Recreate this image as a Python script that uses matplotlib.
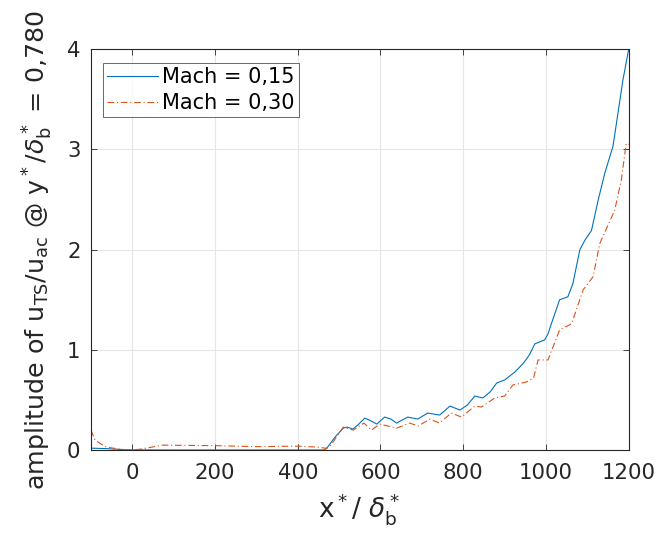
import matplotlib
matplotlib.use("Agg")
import matplotlib.pyplot as plt

plt.rcParams['font.family'] = ['DejaVu Sans']
plt.rcParams['mathtext.default'] = 'regular'

blue_x = [-100, -60, -20, 0, 100, 200, 300, 400, 465, 472, 490, 510, 520, 533, 545, 562,
          578, 591, 610, 625, 639, 652, 666, 690, 714, 743, 768, 792, 810, 828, 847, 865,
          881, 900, 925, 945, 960, 973, 985, 997, 1005, 1013, 1033, 1053, 1065, 1082, 1095,
          1110, 1126, 1142, 1162, 1174, 1186, 1200]
blue_y = [0.02, 0.015, 0.005, 0.003, 0.002, 0.002, 0.002, 0.002, 0.002, 0.03, 0.13, 0.22,
          0.23, 0.21, 0.25, 0.32, 0.29, 0.26, 0.33, 0.31, 0.27, 0.30, 0.33, 0.31, 0.37, 0.35,
          0.44, 0.40, 0.45, 0.54, 0.52, 0.58, 0.67, 0.70, 0.78, 0.865, 0.95, 1.06, 1.08, 1.10,
          1.16, 1.26, 1.50, 1.53, 1.66, 2.0, 2.1, 2.19, 2.49, 2.76, 3.03, 3.36, 3.69, 4.0]

orange_x = [-100, -90, -75, -62, -30, -2, 20, 47, 74, 200, 300, 400, 450, 470, 480, 495,
            510, 534, 560, 578, 598, 639, 671, 691, 719, 743, 771, 796, 828, 844, 876, 900,
            920, 953, 970, 981, 1005, 1033, 1062, 1090, 1114, 1130, 1166, 1182, 1194, 1200]
orange_y = [0.2, 0.1, 0.06, 0.03, 0.01, 0.0, 0.01, 0.03, 0.05, 0.045, 0.035, 0.04, 0.03,
            0.017, 0.05, 0.14, 0.23, 0.20, 0.27, 0.20, 0.26, 0.22, 0.27, 0.24, 0.31, 0.27,
            0.37, 0.33, 0.44, 0.43, 0.52, 0.54, 0.65, 0.68, 0.72, 0.90, 0.90, 1.20, 1.26,
            1.60, 1.73, 2.06, 2.39, 2.69, 3.06, 3.05]

labels = ['Mach = 0,15', 'Mach = 0,30']
xticks = [0, 200, 400, 600, 800, 1000, 1200]
yticks = [0, 1, 2, 3, 4]

fig = plt.figure(figsize=(6.59, 5.34), dpi=100)
ax = fig.add_axes([0.138, 0.157, 0.816, 0.751])

ax.plot(blue_x, blue_y, color='#0072BD', lw=0.8, label=labels[0])
ax.plot(orange_x, orange_y, color='#D95319', lw=0.8, ls=(0, (6, 2.5, 1, 2.5)), label=labels[1])

ax.set_xlim(-100, 1200)
ax.set_ylim(0, 4)
ax.set_xticks(xticks)
ax.set_yticks(yticks)
ax.grid(True, color='#e6e6e6', lw=0.8)
ax.set_axisbelow(True)
ax.tick_params(direction='in', top=True, right=True, labelsize=15.3, colors='#262626',
               length=4, width=0.6)
ax.tick_params(axis='x', pad=9)
ax.tick_params(axis='y', pad=7.5)
for s in ax.spines.values():
    s.set_color('#262626')
    s.set_linewidth(0.8)

ax.set_xlabel(r'x$^*$/ $\mathit{\delta}_b^*$', fontsize=19, color='#262626', labelpad=6)
ax.set_ylabel(r'amplitude of u$_{TS}$/u$_{ac}$ @ y$^*$/$\mathit{\delta}_b^*$ = 0,780',
              fontsize=18.3, color='#262626', labelpad=9)

leg = ax.legend(loc='upper left', bbox_to_anchor=(0.022, 0.965), fontsize=15,
                frameon=True, fancybox=False, borderpad=0.2, handlelength=2.45,
                handletextpad=0.2, labelspacing=0.28, borderaxespad=0.0)
leg.get_frame().set_edgecolor('#262626')
leg.get_frame().set_linewidth(0.6)

fig.savefig('out.png', dpi=100)
